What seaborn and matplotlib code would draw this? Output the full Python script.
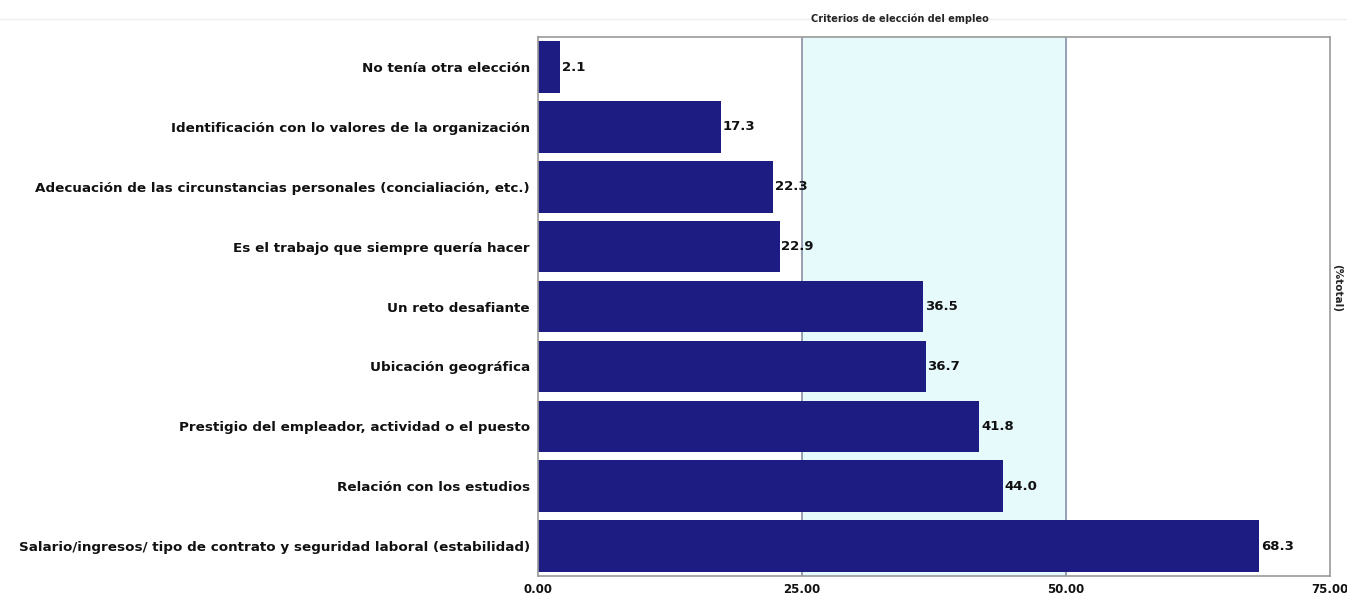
import matplotlib
matplotlib.use('Agg')
import matplotlib.pyplot as plt
import seaborn as sns
import pandas as pd

categorias = [
    'No tenía otra elección',
    'Identificación con lo valores de la organización',
    'Adecuación de las circunstancias personales (concialiación, etc.)',
    'Es el trabajo que siempre quería hacer',
    'Un reto desafiante',
    'Ubicación geográfica',
    'Prestigio del empleador, actividad o el puesto',
    'Relación con los estudios',
    'Salario/ingresos/ tipo de contrato y seguridad laboral (estabilidad)',
]
porcentajes = [2.1, 17.3, 22.3, 22.9, 36.5, 36.7, 41.8, 44.0, 68.3]
ticks_x = [0, 25, 50, 75]

df = pd.DataFrame({'criterio': categorias, 'valor': porcentajes})

sns.set_style('white')
plt.rcParams['font.family'] = ['DejaVu Sans']

fig = plt.figure(figsize=(13.47, 5.99), dpi=100)
ax = fig.add_axes([0.3994, 0.0384, 0.588, 0.8996])

# franja de referencia entre 25 y 50
ax.axvspan(25, 50, color='#e6fafc', zorder=0)
ax.axvline(25, color='#8a8fa8', lw=1.2, zorder=1)
ax.axvline(50, color='#8a8fa8', lw=1.2, zorder=1)

sns.barplot(data=df, x='valor', y='criterio', orient='h', color='#1c1c82',
            saturation=1, width=0.86, linewidth=0, ax=ax, zorder=2)

for i, v in enumerate(porcentajes):
    ax.text(v + 0.15, i, f'{v:.1f}', va='center', ha='left',
            fontsize=9.5, fontweight='bold', color='#111111', zorder=3)

ax.set_xlim(0, 75)
ax.set_ylim(8.5, -0.5)
ax.set_xticks(ticks_x)
ax.set_xticklabels([f'{t:.2f}' for t in ticks_x], fontsize=8.5, fontweight='bold')
ax.set_yticklabels(categorias, fontsize=9.7, fontweight='bold', color='#111111')
ax.set_xlabel('')
ax.set_ylabel('')
ax.tick_params(axis='both', length=3, color='#888888', pad=3)
ax.tick_params(axis='x', pad=2)
for lab in ax.get_xticklabels():
    lab.set_color('#111111')

for s in ax.spines.values():
    s.set_color('#9a9a9a')
    s.set_linewidth(1.2)

fig.text(0.668, 0.968, 'Criterios de elección del empleo', ha='center',
         va='center', fontsize=7, fontweight='bold')
fig.text(0.993, 0.52, '(%total)', rotation=-90, ha='center', va='center',
         fontsize=7.5, fontweight='bold')
fig.add_artist(plt.Line2D([0.0, 1.0], [0.968, 0.968], color='#eeeeee', lw=1, zorder=0))

fig.savefig('out.png', dpi=100)
